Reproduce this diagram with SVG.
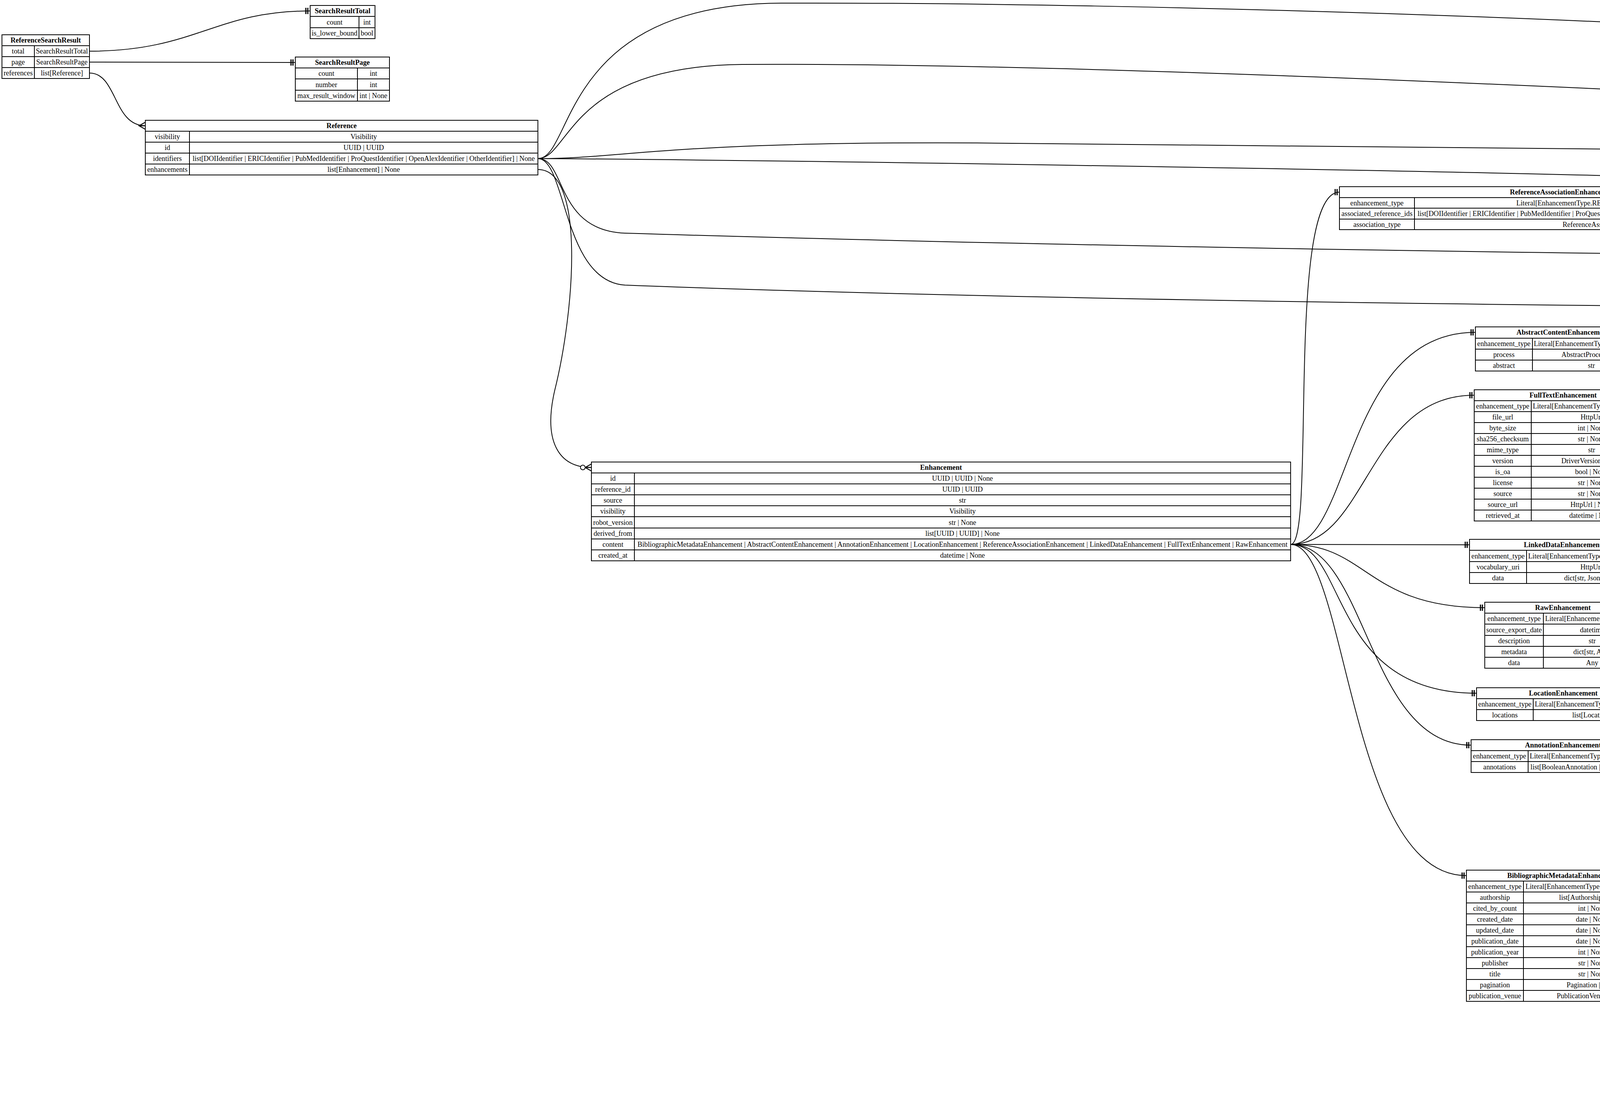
<svg xmlns="http://www.w3.org/2000/svg" width="5187" height="2855" viewBox="0 0 5187 2855">
<style>
.bx{fill:#fff;stroke:#000;stroke-width:2}
.gl{fill:none;stroke:#000;stroke-width:2}
text{font-family:"Liberation Serif","DejaVu Serif",serif;font-size:18.2px;text-anchor:middle;fill:#000}
.h{font-weight:bold}
.e{fill:none;stroke:#000;stroke-width:2}
</style>
<defs>
<marker id="crow" markerUnits="userSpaceOnUse" orient="auto" overflow="visible" refX="0" refY="0" markerWidth="1" markerHeight="1"><path d="M0,-9 L-16,0 L0,9 M-16,0 L0,0" fill="none" stroke="#000" stroke-width="2.5"/></marker>
<marker id="zcrow" markerUnits="userSpaceOnUse" orient="auto" overflow="visible" refX="0" refY="0" markerWidth="1" markerHeight="1"><path d="M0,-9 L-16,0 L0,9 M-16,0 L0,0" fill="none" stroke="#000" stroke-width="2.5"/><circle cx="-22" cy="0" r="6" fill="#fff" stroke="#000" stroke-width="2"/></marker>
<marker id="tee2" markerUnits="userSpaceOnUse" orient="auto" overflow="visible" refX="0" refY="0" markerWidth="1" markerHeight="1"><path d="M-6,-8 L-6,8 M-11,-8 L-11,8" stroke="#000" stroke-width="3"/></marker>
<marker id="zbar" markerUnits="userSpaceOnUse" orient="auto" overflow="visible" refX="0" refY="0" markerWidth="1" markerHeight="1"><path d="M-6,-8 L-6,8" stroke="#000" stroke-width="3"/><circle cx="-15" cy="0" r="6" fill="#fff" stroke="#000" stroke-width="2"/></marker>
</defs>
<rect width="5187" height="2855" fill="#fff"/>
<g id="connectors">
<path class="e" marker-end="url(#tee2)" d="M229,131 C500,131 550,28 794,28"/>
<path class="e" marker-end="url(#tee2)" d="M229,159 L756,160"/>
<path class="e" marker-end="url(#crow)" d="M229,187 C300,187 290,322 372,322"/>
<path class="e" marker-end="url(#zcrow)" d="M1377,406 C1470,406 1430,10 2000,8 C3000,5 4400,60 4714,93"/>
<path class="e" marker-end="url(#zcrow)" d="M1377,406 C1460,406 1450,170 1900,165 C2900,160 4500,250 4721,255"/>
<path class="e" marker-end="url(#zcrow)" d="M1377,406 C1600,406 1700,362 2500,366 C3500,372 4500,388 4744,388"/>
<path class="e" marker-end="url(#zcrow)" d="M1377,406 C2000,410 4000,440 4500,462 C4650,470 4680,520 4756,520"/>
<path class="e" marker-end="url(#zcrow)" d="M1377,406 C1450,406 1420,590 1600,597 C2500,625 4000,652 4752,654"/>
<path class="e" marker-end="url(#zcrow)" d="M1377,406 C1450,406 1440,720 1600,730 C2500,765 4000,785 4720,786"/>
<path class="e" marker-end="url(#zcrow)" d="M1377,434 C1500,434 1470,800 1420,1000 C1390,1130 1430,1197 1514,1197"/>
<path class="e" marker-end="url(#zcrow)" d="M4575,547 C4660,547 4600,93 4714,93"/>
<path class="e" marker-end="url(#zcrow)" d="M4575,547 C4665,547 4620,255 4721,255"/>
<path class="e" marker-end="url(#zcrow)" d="M4575,547 C4665,547 4650,388 4744,388"/>
<path class="e" marker-end="url(#zcrow)" d="M4575,547 C4650,547 4680,520 4756,520"/>
<path class="e" marker-end="url(#zcrow)" d="M4575,547 C4660,547 4660,654 4752,654"/>
<path class="e" marker-end="url(#zcrow)" d="M4575,547 C4665,547 4620,786 4720,786"/>
<path class="e" marker-end="url(#tee2)" d="M3304,1394 C3370,1394 3290,492 3429,492"/>
<path class="e" marker-end="url(#tee2)" d="M3304,1394 C3460,1394 3440,851 3777,851"/>
<path class="e" marker-end="url(#tee2)" d="M3304,1394 C3500,1394 3500,1012 3774,1012"/>
<path class="e" marker-end="url(#tee2)" d="M3304,1394 L3762,1395"/>
<path class="e" marker-end="url(#tee2)" d="M3304,1394 C3500,1394 3500,1556 3801,1556"/>
<path class="e" marker-end="url(#tee2)" d="M3304,1394 C3450,1394 3400,1775 3780,1775"/>
<path class="e" marker-end="url(#tee2)" d="M3304,1394 C3500,1394 3500,1908 3766,1908"/>
<path class="e" marker-end="url(#tee2)" d="M3304,1394 C3450,1394 3450,2242 3754,2242"/>
<path class="e" marker-end="url(#crow)" d="M4224,1831 C4500,1831 4500,1609 4798,1609"/>
<path class="e" marker-end="url(#crow)" d="M4237,1964 C4500,1964 4500,1854 4761,1854"/>
<path class="e" marker-end="url(#crow)" d="M4237,1964 C4500,1964 4450,2072 4746,2072"/>
<path class="e" marker-end="url(#zcrow)" d="M4251,2298 C4500,2300 4600,2314 4834,2314"/>
<path class="e" marker-end="url(#zbar)" d="M4251,2522 C4500,2520 4600,2508 4868,2508"/>
<path class="e" marker-end="url(#zbar)" d="M4251,2550 C4500,2550 4450,2698 4742,2698"/>
</g>
<g id="ReferenceSearchResult">
<rect class="bx" x="5" y="89" width="224" height="112"/>
<path class="gl" d="M5,117H229M5,145H229M5,173H229M88,117V201"/>
<text class="h" x="117" y="109">ReferenceSearchResult</text>
<text x="46.5" y="137">total</text><text x="158.5" y="137">SearchResultTotal</text>
<text x="46.5" y="165">page</text><text x="158.5" y="165">SearchResultPage</text>
<text x="46.5" y="193">references</text><text x="158.5" y="193">list[Reference]</text>
</g>
<g id="SearchResultTotal">
<rect class="bx" x="794" y="14" width="166" height="85"/>
<path class="gl" d="M794,42H960M794,71H960M919,42V99"/>
<text class="h" x="877" y="34">SearchResultTotal</text>
<text x="856.5" y="63">count</text><text x="939.5" y="63">int</text>
<text x="856.5" y="91">is_lower_bound</text><text x="939.5" y="91">bool</text>
</g>
<g id="SearchResultPage">
<rect class="bx" x="756" y="146" width="241" height="113"/>
<path class="gl" d="M756,174H997M756,202H997M756,231H997M915,174V259"/>
<text class="h" x="876.5" y="166">SearchResultPage</text>
<text x="835.5" y="194">count</text><text x="956" y="194">int</text>
<text x="835.5" y="223">number</text><text x="956" y="223">int</text>
<text x="835.5" y="251">max_result_window</text><text x="956" y="251">int | None</text>
</g>
<g id="Reference">
<rect class="bx" x="372" y="308" width="1005" height="140"/>
<path class="gl" d="M372,336H1377M372,364H1377M372,392H1377M372,420H1377M485,336V448"/>
<text class="h" x="874.5" y="328">Reference</text>
<text x="428.5" y="356">visibility</text><text x="931" y="356">Visibility</text>
<text x="428.5" y="384">id</text><text x="931" y="384">UUID | UUID</text>
<text x="428.5" y="412">identifiers</text><text x="931" y="412" textLength="876" lengthAdjust="spacingAndGlyphs">list[DOIIdentifier | ERICIdentifier | PubMedIdentifier | ProQuestIdentifier | OpenAlexIdentifier | OtherIdentifier] | None</text>
<text x="428.5" y="440">enhancements</text><text x="931" y="440">list[Enhancement] | None</text>
</g>
<g id="Enhancement">
<rect class="bx" x="1514" y="1183" width="1790" height="253"/>
<path class="gl" d="M1514,1211H3304M1514,1239H3304M1514,1267H3304M1514,1295H3304M1514,1323H3304M1514,1352H3304M1514,1380H3304M1514,1408H3304M1624,1211V1436"/>
<text class="h" x="2409" y="1203">Enhancement</text>
<text x="1569" y="1231">id</text><text x="2464" y="1231">UUID | UUID | None</text>
<text x="1569" y="1259">reference_id</text><text x="2464" y="1259">UUID | UUID</text>
<text x="1569" y="1287">source</text><text x="2464" y="1287">str</text>
<text x="1569" y="1315">visibility</text><text x="2464" y="1315">Visibility</text>
<text x="1569" y="1344">robot_version</text><text x="2464" y="1344">str | None</text>
<text x="1569" y="1372">derived_from</text><text x="2464" y="1372">list[UUID | UUID] | None</text>
<text x="1569" y="1400">content</text><text x="2464" y="1400" textLength="1664" lengthAdjust="spacingAndGlyphs">BibliographicMetadataEnhancement | AbstractContentEnhancement | AnnotationEnhancement | LocationEnhancement | ReferenceAssociationEnhancement | LinkedDataEnhancement | FullTextEnhancement | RawEnhancement</text>
<text x="1569" y="1428">created_at</text><text x="2464" y="1428">datetime | None</text>
</g>
<g id="OtherIdentifier">
<rect class="bx" x="4714" y="79" width="468" height="113"/>
<path class="gl" d="M4714,107H5182M4714,135H5182M4714,164H5182M4884,107V192"/>
<text class="h" x="4948" y="99">OtherIdentifier</text>
<text x="4799" y="127">identifier</text><text x="5033" y="127">str</text>
<text x="4799" y="156">identifier_type</text><text x="5033" y="156">Literal[ExternalIdentifierType.OTHER]</text>
<text x="4799" y="184">other_identifier_name</text><text x="5033" y="184">str</text>
</g>
<g id="ProQuestIdentifier">
<rect class="bx" x="4721" y="241" width="455" height="84"/>
<path class="gl" d="M4721,269H5176M4721,297H5176M4836,269V325"/>
<text class="h" x="4948.5" y="261">ProQuestIdentifier</text>
<text x="4778.5" y="289">identifier</text><text x="5006" y="289">str</text>
<text x="4778.5" y="317">identifier_type</text><text x="5006" y="317">Literal[ExternalIdentifierType.PRO_QUEST]</text>
</g>
<g id="PubMedIdentifier">
<rect class="bx" x="4744" y="374" width="408" height="83"/>
<path class="gl" d="M4744,402H5152M4744,429H5152M4859,402V457"/>
<text class="h" x="4948" y="394">PubMedIdentifier</text>
<text x="4801.5" y="422">identifier</text><text x="5005.5" y="422">int</text>
<text x="4801.5" y="449">identifier_type</text><text x="5005.5" y="449">Literal[ExternalIdentifierType.PM_ID]</text>
</g>
<g id="DOIIdentifier">
<rect class="bx" x="4756" y="506" width="384" height="85"/>
<path class="gl" d="M4756,534H5140M4756,563H5140M4870,534V591"/>
<text class="h" x="4948" y="526">DOIIdentifier</text>
<text x="4813" y="555">identifier</text><text x="5005" y="555">str</text>
<text x="4813" y="583">identifier_type</text><text x="5005" y="583">Literal[ExternalIdentifierType.DOI]</text>
</g>
<g id="ERICIdentifier">
<rect class="bx" x="4752" y="640" width="393" height="83"/>
<path class="gl" d="M4752,668H5145M4752,696H5145M4867,668V723"/>
<text class="h" x="4948.5" y="660">ERICIdentifier</text>
<text x="4809.5" y="688">identifier</text><text x="5006" y="688">str</text>
<text x="4809.5" y="716">identifier_type</text><text x="5006" y="716">Literal[ExternalIdentifierType.ERIC]</text>
</g>
<g id="OpenAlexIdentifier">
<rect class="bx" x="4720" y="772" width="456" height="84"/>
<path class="gl" d="M4720,800H5176M4720,828H5176M4835,800V856"/>
<text class="h" x="4948" y="792">OpenAlexIdentifier</text>
<text x="4777.5" y="820">identifier</text><text x="5005.5" y="820">str</text>
<text x="4777.5" y="848">identifier_type</text><text x="5005.5" y="848">Literal[ExternalIdentifierType.OPEN_ALEX]</text>
</g>
<g id="ReferenceAssociationEnhancement">
<rect class="bx" x="3429" y="478" width="1146" height="110"/>
<path class="gl" d="M3429,506H4575M3429,533H4575M3429,561H4575M3621,506V588"/>
<text class="h" x="4002" y="498">ReferenceAssociationEnhancement</text>
<text x="3525" y="526">enhancement_type</text><text x="4098" y="526">Literal[EnhancementType.REFERENCE_ASSOCIATION]</text>
<text x="3525" y="553" textLength="182" lengthAdjust="spacingAndGlyphs">associated_reference_ids</text><text x="4098" y="553" textLength="938" lengthAdjust="spacingAndGlyphs">list[DOIIdentifier | ERICIdentifier | PubMedIdentifier | ProQuestIdentifier | OpenAlexIdentifier | OtherIdentifier | UUID | UUID]</text>
<text x="3525" y="581">association_type</text><text x="4098" y="581">ReferenceAssociationType</text>
</g>
<g id="AbstractContentEnhancement">
<rect class="bx" x="3777" y="837" width="448" height="113"/>
<path class="gl" d="M3777,866H4225M3777,894H4225M3777,922H4225M3923,866V950"/>
<text class="h" x="4001" y="857">AbstractContentEnhancement</text>
<text x="3850" y="886">enhancement_type</text><text x="4074" y="886">Literal[EnhancementType.ABSTRACT]</text>
<text x="3850" y="914">process</text><text x="4074" y="914">AbstractProcessType</text>
<text x="3850" y="942">abstract</text><text x="4074" y="942">str</text>
</g>
<g id="FullTextEnhancement">
<rect class="bx" x="3774" y="998" width="455" height="336"/>
<path class="gl" d="M3774,1026H4229M3774,1054H4229M3774,1082H4229M3774,1110H4229M3774,1138H4229M3774,1166H4229M3774,1194H4229M3774,1222H4229M3774,1250H4229M3774,1278H4229M3774,1306H4229M3920,1026V1334"/>
<text class="h" x="4001.5" y="1018">FullTextEnhancement</text>
<text x="3847" y="1046">enhancement_type</text><text x="4074.5" y="1046">Literal[EnhancementType.FULL_TEXT]</text>
<text x="3847" y="1074">file_url</text><text x="4074.5" y="1074">HttpUrl</text>
<text x="3847" y="1102">byte_size</text><text x="4074.5" y="1102">int | None</text>
<text x="3847" y="1130">sha256_checksum</text><text x="4074.5" y="1130">str | None</text>
<text x="3847" y="1158">mime_type</text><text x="4074.5" y="1158">str</text>
<text x="3847" y="1186">version</text><text x="4074.5" y="1186">DriverVersion | None</text>
<text x="3847" y="1214">is_oa</text><text x="4074.5" y="1214">bool | None</text>
<text x="3847" y="1242">license</text><text x="4074.5" y="1242">str | None</text>
<text x="3847" y="1270">source</text><text x="4074.5" y="1270">str | None</text>
<text x="3847" y="1298">source_url</text><text x="4074.5" y="1298">HttpUrl | None</text>
<text x="3847" y="1326">retrieved_at</text><text x="4074.5" y="1326">datetime | None</text>
</g>
<g id="LinkedDataEnhancement">
<rect class="bx" x="3762" y="1381" width="478" height="113"/>
<path class="gl" d="M3762,1409H4240M3762,1438H4240M3762,1466H4240M3908,1409V1494"/>
<text class="h" x="4001" y="1401">LinkedDataEnhancement</text>
<text x="3835" y="1430">enhancement_type</text><text x="4074" y="1430">Literal[EnhancementType.LINKED_DATA]</text>
<text x="3835" y="1458">vocabulary_uri</text><text x="4074" y="1458">HttpUrl</text>
<text x="3835" y="1486">data</text><text x="4074" y="1486">dict[str, JsonValue]</text>
</g>
<g id="RawEnhancement">
<rect class="bx" x="3801" y="1542" width="400" height="169"/>
<path class="gl" d="M3801,1570H4201M3801,1598H4201M3801,1627H4201M3801,1655H4201M3801,1683H4201M3951,1570V1711"/>
<text class="h" x="4001" y="1562">RawEnhancement</text>
<text x="3876" y="1590">enhancement_type</text><text x="4076" y="1590">Literal[EnhancementType.RAW]</text>
<text x="3876" y="1619">source_export_date</text><text x="4076" y="1619">datetime</text>
<text x="3876" y="1647">description</text><text x="4076" y="1647">str</text>
<text x="3876" y="1675">metadata</text><text x="4076" y="1675">dict[str, Any]</text>
<text x="3876" y="1703">data</text><text x="4076" y="1703">Any</text>
</g>
<g id="LocationEnhancement">
<rect class="bx" x="3780" y="1761" width="444" height="84"/>
<path class="gl" d="M3780,1789H4224M3780,1817H4224M3925,1789V1845"/>
<text class="h" x="4002" y="1781">LocationEnhancement</text>
<text x="3852.5" y="1809">enhancement_type</text><text x="4074.5" y="1809">Literal[EnhancementType.LOCATION]</text>
<text x="3852.5" y="1837">locations</text><text x="4074.5" y="1837">list[Location]</text>
</g>
<g id="AnnotationEnhancement">
<rect class="bx" x="3766" y="1894" width="471" height="84"/>
<path class="gl" d="M3766,1922H4237M3766,1950H4237M3912,1922V1978"/>
<text class="h" x="4001.5" y="1914">AnnotationEnhancement</text>
<text x="3839" y="1942">enhancement_type</text><text x="4074.5" y="1942">Literal[EnhancementType.ANNOTATION]</text>
<text x="3839" y="1970">annotations</text><text x="4074.5" y="1970">list[BooleanAnnotation | ScoreAnnotation]</text>
</g>
<g id="Location">
<rect class="bx" x="4798" y="1595" width="299" height="197"/>
<path class="gl" d="M4798,1623H5097M4798,1651H5097M4798,1679H5097M4798,1707H5097M4798,1736H5097M4798,1764H5097M4933,1623V1792"/>
<text class="h" x="4947.5" y="1615">Location</text>
<text x="4865.5" y="1643">is_oa</text><text x="5015" y="1643">bool | None</text>
<text x="4865.5" y="1671">version</text><text x="5015" y="1671">DriverVersion | None</text>
<text x="4865.5" y="1699">landing_page_url</text><text x="5015" y="1699">HttpUrl | None</text>
<text x="4865.5" y="1728">pdf_url</text><text x="5015" y="1728">HttpUrl | None</text>
<text x="4865.5" y="1756">license</text><text x="5015" y="1756">str | None</text>
<text x="4865.5" y="1784">extra</text><text x="5015" y="1784">dict | None</text>
</g>
<g id="ScoreAnnotation">
<rect class="bx" x="4761" y="1840" width="375" height="169"/>
<path class="gl" d="M4761,1868H5136M4761,1896H5136M4761,1925H5136M4761,1953H5136M4761,1981H5136M4887,1868V2009"/>
<text class="h" x="4948.5" y="1860">ScoreAnnotation</text>
<text x="4824" y="1888">scheme</text><text x="5011.5" y="1888">str</text>
<text x="4824" y="1917">label</text><text x="5011.5" y="1917">str</text>
<text x="4824" y="1945">annotation_type</text><text x="5011.5" y="1945">Literal[AnnotationType.SCORE]</text>
<text x="4824" y="1973">score</text><text x="5011.5" y="1973">float</text>
<text x="4824" y="2001">data</text><text x="5011.5" y="2001">dict</text>
</g>
<g id="BooleanAnnotation">
<rect class="bx" x="4746" y="2058" width="403" height="197"/>
<path class="gl" d="M4746,2086H5149M4746,2114H5149M4746,2142H5149M4746,2171H5149M4746,2199H5149M4746,2227H5149M4872,2086V2255"/>
<text class="h" x="4947.5" y="2078">BooleanAnnotation</text>
<text x="4809" y="2106">scheme</text><text x="5010.5" y="2106">str</text>
<text x="4809" y="2134">label</text><text x="5010.5" y="2134">str</text>
<text x="4809" y="2163">annotation_type</text><text x="5010.5" y="2163">Literal[AnnotationType.BOOLEAN]</text>
<text x="4809" y="2191">value</text><text x="5010.5" y="2191">bool</text>
<text x="4809" y="2219">score</text><text x="5010.5" y="2219">float | None</text>
<text x="4809" y="2247">data</text><text x="5010.5" y="2247">dict</text>
</g>
<g id="BibliographicMetadataEnhancement">
<rect class="bx" x="3754" y="2228" width="497" height="336"/>
<path class="gl" d="M3754,2256H4251M3754,2284H4251M3754,2312H4251M3754,2340H4251M3754,2368H4251M3754,2396H4251M3754,2424H4251M3754,2452H4251M3754,2480H4251M3754,2508H4251M3754,2536H4251M3900,2256V2564"/>
<text class="h" x="4002.5" y="2248">BibliographicMetadataEnhancement</text>
<text x="3827" y="2276">enhancement_type</text><text x="4075.5" y="2276">Literal[EnhancementType.BIBLIOGRAPHIC]</text>
<text x="3827" y="2304">authorship</text><text x="4075.5" y="2304">list[Authorship] | None</text>
<text x="3827" y="2332">cited_by_count</text><text x="4075.5" y="2332">int | None</text>
<text x="3827" y="2360">created_date</text><text x="4075.5" y="2360">date | None</text>
<text x="3827" y="2388">updated_date</text><text x="4075.5" y="2388">date | None</text>
<text x="3827" y="2416">publication_date</text><text x="4075.5" y="2416">date | None</text>
<text x="3827" y="2444">publication_year</text><text x="4075.5" y="2444">int | None</text>
<text x="3827" y="2472">publisher</text><text x="4075.5" y="2472">str | None</text>
<text x="3827" y="2500">title</text><text x="4075.5" y="2500">str | None</text>
<text x="3827" y="2528">pagination</text><text x="4075.5" y="2528">Pagination | None</text>
<text x="3827" y="2556">publication_venue</text><text x="4075.5" y="2556">PublicationVenue | None</text>
</g>
<g id="Authorship">
<rect class="bx" x="4834" y="2300" width="229" height="113"/>
<path class="gl" d="M4834,2328H5063M4834,2356H5063M4834,2385H5063M4944,2328V2413"/>
<text class="h" x="4948.5" y="2320">Authorship</text>
<text x="4889" y="2348">display_name</text><text x="5003.5" y="2348">str</text>
<text x="4889" y="2377">orcid</text><text x="5003.5" y="2377">str | None</text>
<text x="4889" y="2405">position</text><text x="5003.5" y="2405">AuthorPosition</text>
</g>
<g id="Pagination">
<rect class="bx" x="4868" y="2494" width="161" height="142"/>
<path class="gl" d="M4868,2522H5029M4868,2551H5029M4868,2579H5029M4868,2607H5029M4949,2522V2636"/>
<text class="h" x="4948.5" y="2514">Pagination</text>
<text x="4908.5" y="2543">volume</text><text x="4989" y="2543">str | None</text>
<text x="4908.5" y="2571">issue</text><text x="4989" y="2571">str | None</text>
<text x="4908.5" y="2599">first_page</text><text x="4989" y="2599">str | None</text>
<text x="4908.5" y="2628">last_page</text><text x="4989" y="2628">str | None</text>
</g>
<g id="PublicationVenue">
<rect class="bx" x="4742" y="2684" width="413" height="169"/>
<path class="gl" d="M4742,2712H5155M4742,2741H5155M4742,2769H5155M4742,2797H5155M4742,2825H5155M4929,2712V2853"/>
<text class="h" x="4948.5" y="2704">PublicationVenue</text>
<text x="4835.5" y="2733">display_name</text><text x="5042" y="2733">str | None</text>
<text x="4835.5" y="2761">venue_type</text><text x="5042" y="2761">PublicationVenueType | None</text>
<text x="4835.5" y="2789">issn</text><text x="5042" y="2789">list[str] | None</text>
<text x="4835.5" y="2817">issn_l</text><text x="5042" y="2817">str | None</text>
<text x="4835.5" y="2845">host_organization_name</text><text x="5042" y="2845">str | None</text>
</g>
</svg>
